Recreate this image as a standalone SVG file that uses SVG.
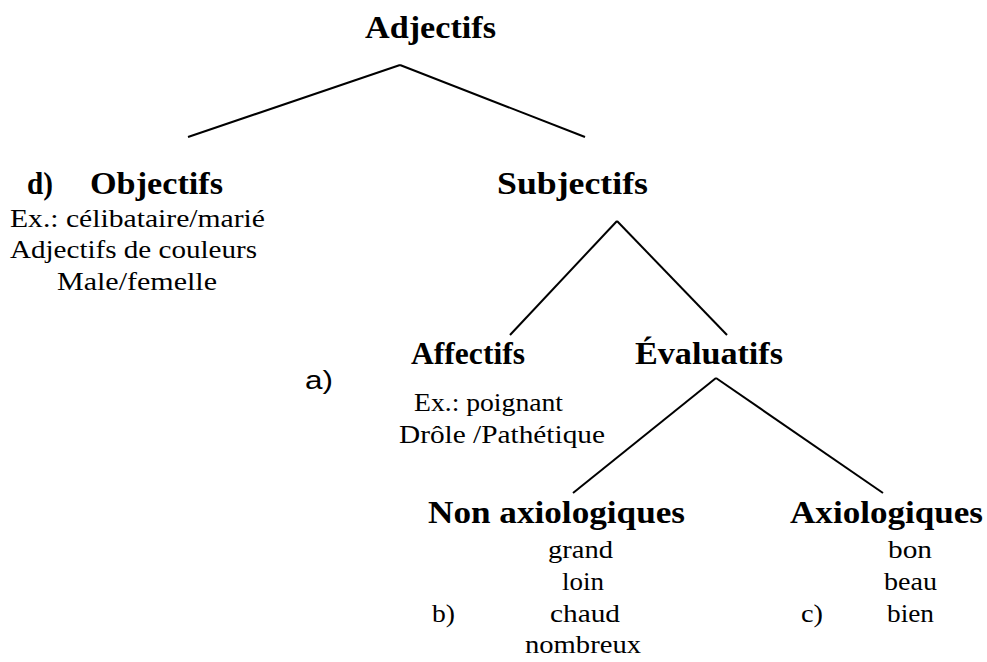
<svg xmlns="http://www.w3.org/2000/svg" width="987" height="662" viewBox="0 0 987 662">
<style>
.b{font-family:"Liberation Serif",serif;font-weight:bold;font-size:31px;fill:#000}
.r{font-family:"Liberation Serif",serif;font-size:25px;fill:#000}
.s{font-family:"Liberation Sans",sans-serif;font-size:26px;fill:#000}
line{stroke:#000;stroke-width:2}
</style>
<rect width="987" height="662" fill="#fff"/>
<g id="connectors">
<line x1="400" y1="65" x2="188" y2="137"/>
<line x1="400" y1="65" x2="585" y2="137"/>
<line x1="617" y1="221" x2="510" y2="335"/>
<line x1="617" y1="221" x2="727" y2="335"/>
<line x1="716" y1="378" x2="573" y2="493"/>
<line x1="716" y1="378" x2="883" y2="493"/>
</g>
<g id="adjectifs"><text class="b" x="365" y="38" textLength="131" lengthAdjust="spacingAndGlyphs">Adjectifs</text></g>
<g id="objectifs">
<text class="b" x="27" y="194" textLength="26" lengthAdjust="spacingAndGlyphs">d)</text>
<text class="b" x="90" y="194" textLength="133" lengthAdjust="spacingAndGlyphs">Objectifs</text>
<text class="r" x="10" y="227" textLength="255" lengthAdjust="spacingAndGlyphs">Ex.: célibataire/marié</text>
<text class="r" x="10" y="258" textLength="247" lengthAdjust="spacingAndGlyphs">Adjectifs de couleurs</text>
<text class="r" x="57" y="290" textLength="160" lengthAdjust="spacingAndGlyphs">Male/femelle</text>
</g>
<g id="subjectifs"><text class="b" x="497" y="194" textLength="151" lengthAdjust="spacingAndGlyphs">Subjectifs</text></g>
<g id="affectifs">
<text class="b" x="411" y="364" textLength="114" lengthAdjust="spacingAndGlyphs">Affectifs</text>
<text class="s" x="305" y="389" textLength="28" lengthAdjust="spacingAndGlyphs">a)</text>
<text class="r" x="414" y="411" textLength="149" lengthAdjust="spacingAndGlyphs">Ex.: poignant</text>
<text class="r" x="399" y="443" textLength="206" lengthAdjust="spacingAndGlyphs">Drôle /Pathétique</text>
</g>
<g id="evaluatifs"><text class="b" x="635" y="364" textLength="148" lengthAdjust="spacingAndGlyphs">Évaluatifs</text></g>
<g id="non-axiologiques">
<text class="b" x="428" y="523" textLength="257" lengthAdjust="spacingAndGlyphs">Non axiologiques</text>
<text class="r" x="548" y="558" textLength="65" lengthAdjust="spacingAndGlyphs">grand</text>
<text class="r" x="562" y="590" textLength="42" lengthAdjust="spacingAndGlyphs">loin</text>
<text class="r" x="432" y="622" textLength="23" lengthAdjust="spacingAndGlyphs">b)</text>
<text class="r" x="550" y="622" textLength="70" lengthAdjust="spacingAndGlyphs">chaud</text>
<text class="r" x="525" y="653" textLength="116" lengthAdjust="spacingAndGlyphs">nombreux</text>
</g>
<g id="axiologiques">
<text class="b" x="790" y="523" textLength="193" lengthAdjust="spacingAndGlyphs">Axiologiques</text>
<text class="r" x="888" y="558" textLength="44" lengthAdjust="spacingAndGlyphs">bon</text>
<text class="r" x="884" y="590" textLength="53" lengthAdjust="spacingAndGlyphs">beau</text>
<text class="r" x="801" y="622" textLength="22" lengthAdjust="spacingAndGlyphs">c)</text>
<text class="r" x="887" y="622" textLength="47" lengthAdjust="spacingAndGlyphs">bien</text>
</g>
</svg>
